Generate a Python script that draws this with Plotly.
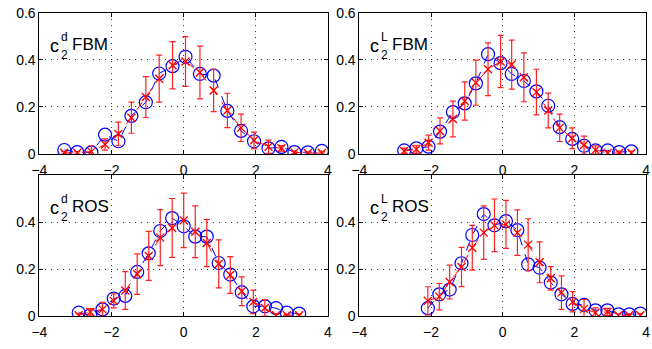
import plotly.graph_objects as go

# ---------------- data ----------------
# top-left: c2^d FBM
tl_x = [-3.31, -2.95, -2.56, -2.18, -1.81, -1.45, -1.05, -0.68, -0.31, 0.05,
        0.45, 0.83, 1.21, 1.59, 1.95, 2.35, 2.71, 3.07, 3.44, 3.83]
tl_blue = [0.017, 0.008, 0.007, 0.082, 0.054, 0.162, 0.220, 0.342, 0.373, 0.413,
           0.340, 0.333, 0.183, 0.098, 0.054, 0.024, 0.030, 0.008, 0.007, 0.013]
tl_red = [0.005, 0.005, 0.010, 0.040, 0.085, 0.154, 0.242, 0.320, 0.377, 0.393,
          0.346, 0.270, 0.185, 0.111, 0.058, 0.031, 0.024, 0.007, 0.004, 0.004]
tl_err = [0.005, 0.005, 0.025, 0.024, 0.050, 0.066, 0.087, 0.100, 0.100, 0.106,
          0.112, 0.090, 0.073, 0.058, 0.035, 0.028, 0.012, 0.005, 0.005, 0.005]

# top-right: c2^L FBM
tr_x = [-2.75, -2.41, -2.07, -1.75, -1.39, -1.06, -0.75, -0.41, -0.06, 0.25,
        0.59, 0.94, 1.27, 1.59, 1.94, 2.27, 2.59, 2.93, 3.25, 3.59]
tr_blue = [0.015, 0.024, 0.031, 0.095, 0.178, 0.215, 0.300, 0.424, 0.386, 0.340,
           0.310, 0.266, 0.205, 0.114, 0.064, 0.035, 0.015, 0.015, 0.008, 0.011]
tr_red = [0.013, 0.020, 0.048, 0.098, 0.149, 0.225, 0.303, 0.360, 0.393, 0.380,
          0.326, 0.263, 0.185, 0.111, 0.067, 0.038, 0.017, 0.004, 0.004, 0.004]
tr_err = [0.012, 0.017, 0.032, 0.055, 0.076, 0.081, 0.096, 0.112, 0.111, 0.104,
          0.104, 0.097, 0.074, 0.058, 0.044, 0.038, 0.018, 0.008, 0.008, 0.008]

# bottom-left: c2^d ROS
bl_x = [-2.91, -2.59, -2.25, -1.94, -1.62, -1.29, -0.97, -0.65, -0.32, 0.00,
        0.32, 0.64, 0.97, 1.29, 1.61, 1.93, 2.25, 2.56, 2.86, 3.20]
bl_blue = [0.015, 0.004, 0.029, 0.075, 0.086, 0.188, 0.267, 0.362, 0.417, 0.382,
           0.338, 0.338, 0.226, 0.177, 0.102, 0.042, 0.042, 0.034, 0.015, 0.011]
bl_red = [0.004, 0.018, 0.029, 0.065, 0.109, 0.179, 0.256, 0.334, 0.375, 0.407,
          0.359, 0.311, 0.222, 0.175, 0.106, 0.061, 0.035, 0.004, 0.004, 0.004]
bl_err = [0.006, 0.014, 0.030, 0.030, 0.080, 0.086, 0.104, 0.119, 0.125, 0.116,
          0.110, 0.100, 0.102, 0.078, 0.061, 0.050, 0.035, 0.006, 0.005, 0.005]

# bottom-right: c2^L ROS
br_x = [-2.09, -1.77, -1.48, -1.15, -0.85, -0.53, -0.23, 0.09, 0.41, 0.71,
        1.03, 1.34, 1.64, 1.95, 2.27, 2.59, 2.92, 3.23, 3.53, 3.84]
br_blue = [0.034, 0.093, 0.113, 0.225, 0.345, 0.434, 0.386, 0.404, 0.366, 0.220,
           0.206, 0.143, 0.093, 0.052, 0.048, 0.025, 0.025, 0.008, 0.008, 0.011]
br_red = [0.065, 0.083, 0.145, 0.209, 0.291, 0.355, 0.386, 0.390, 0.355, 0.304,
          0.229, 0.161, 0.100, 0.061, 0.031, 0.015, 0.018, 0.004, 0.004, 0.004]
br_err = [0.060, 0.056, 0.072, 0.083, 0.095, 0.114, 0.112, 0.102, 0.097, 0.110,
          0.087, 0.050, 0.071, 0.043, 0.040, 0.020, 0.015, 0.006, 0.006, 0.006]

panels = [
    ("c", "d", "FBM", tl_x, tl_blue, tl_red, tl_err, [0, 0.2, 0.4, 0.6]),
    ("c", "L", "FBM", tr_x, tr_blue, tr_red, tr_err, [0, 0.2, 0.4, 0.6]),
    ("c", "d", "ROS", bl_x, bl_blue, bl_red, bl_err, [0, 0.2, 0.4]),
    ("c", "L", "ROS", br_x, br_blue, br_red, br_err, [0, 0.2, 0.4]),
]
x_ticks = [-4, -2, 0, 2, 4]

# ---------------- layout geometry ----------------
W, H = 652, 349
boxes = [(32, 326, 5, 153), (358, 650, 5, 153), (32, 326, 175, 323), (358, 650, 175, 323)]

fig = go.Figure()
FONT = "Liberation Sans, Arial, Helvetica, sans-serif"

for i, ((c, sup, name, xs, yb, yr, er, yt), (x0, x1, y0, y1)) in enumerate(zip(panels, boxes)):
    n = i + 1
    xa = "x" if n == 1 else f"x{n}"
    ya = "y" if n == 1 else f"y{n}"
    fig.add_trace(go.Scatter(
        x=xs, y=yb, xaxis=xa, yaxis=ya, mode="lines+markers",
        line=dict(color="#0000ff", width=1, dash="dash"),
        marker=dict(symbol="circle-open", size=13, color="#0000ff", line=dict(width=1.2)),
        showlegend=False, hoverinfo="skip"))
    fig.add_trace(go.Scatter(
        x=xs, y=yr, xaxis=xa, yaxis=ya, mode="lines+markers",
        line=dict(color="#ff0000", width=1, dash="dash"),
        marker=dict(symbol="x-thin-open", size=8, color="#ff0000", line=dict(width=1.3, color="#ff0000")),
        error_y=dict(type="data", array=er, visible=True, color="#ff2020", thickness=1.2, width=3),
        showlegend=False, hoverinfo="skip"))

    axis_common = dict(showline=True, linecolor="black", linewidth=1, mirror="ticks",
                       ticks="inside", ticklen=4, tickcolor="black",
                       showgrid=True, gridcolor="rgba(0,0,0,0.8)", griddash="1px,5px", gridwidth=1,
                       zeroline=False, ticklabeloverflow="allow",
                       tickfont=dict(family=FONT, size=14, color="black"))
    fig.layout[("xaxis" if n == 1 else f"xaxis{n}")] = dict(
        axis_common, domain=[x0 / W, x1 / W], range=[-4.0001, 4.0001], tickvals=x_ticks,
        anchor=ya, ticklabelstandoff=3)
    fig.layout[("yaxis" if n == 1 else f"yaxis{n}")] = dict(
        axis_common, domain=[1 - y1 / H, 1 - y0 / H], range=[-0.00001, 0.60001], tickvals=yt,
        ticktext=[("0" if v == 0 else f"{v:.1f}") for v in yt], anchor=xa)

    pw, ph = x1 - x0, y1 - y0
    def ann(text, px, py, size):
        fig.add_annotation(text=text, xref=f"{xa} domain", yref=f"{ya} domain",
                           x=px / pw, y=1 - py / ph, xanchor="left", yanchor="middle",
                           showarrow=False, font=dict(family=FONT, size=size, color="black"))
    ann(c, 9, 35, 18)
    ann(sup, 20, 25, 12)
    ann("2", 20, 44, 12)
    ann(name, 31, 33, 17)

fig.update_layout(width=W, height=H, margin=dict(l=0, r=0, t=0, b=0),
                  paper_bgcolor="white", plot_bgcolor="white")
fig.write_html("out.html")
